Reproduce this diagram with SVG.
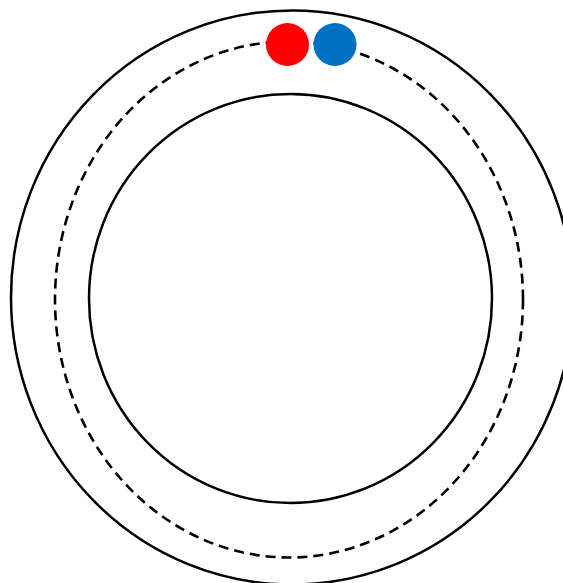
<svg xmlns="http://www.w3.org/2000/svg" width="563" height="583" viewBox="0 0 563 583">
<style>
.ring{fill:none;stroke:#000;stroke-width:2.5}
.dash{fill:none;stroke:#000;stroke-width:2.6;stroke-dasharray:10 6}
</style>
<rect width="563" height="583" fill="#fff"/>
<g id="outer"><ellipse class="ring" cx="292" cy="297.5" rx="281" ry="287"/></g>
<g id="orbit"><ellipse class="dash" cx="289" cy="299.5" rx="234" ry="258"/></g>
<g id="inner"><ellipse class="ring" cx="290.5" cy="298.5" rx="201.5" ry="204.5"/></g>
<g id="red"><circle cx="287.5" cy="44.5" r="21.5" fill="#ff0000"/></g>
<g id="blue"><circle cx="335" cy="44.5" r="21.5" fill="#0070c0"/></g>
</svg>
